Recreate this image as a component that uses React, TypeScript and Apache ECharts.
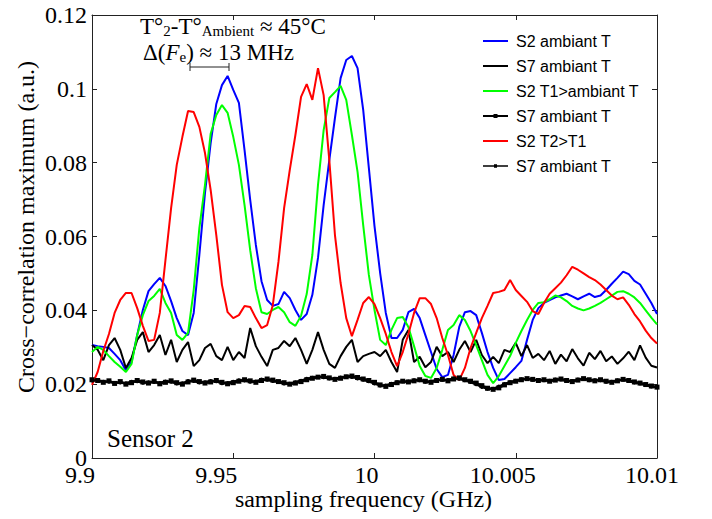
import React, { useEffect, useRef } from "react";
import * as echarts from "echarts";

// sampling grid (GHz)
const FREQ_START = 9.99;
const FREQ_STEP = 0.0002;
const N_POINTS = 101;
const frequencies = Array.from({ length: N_POINTS }, (_, i) => Number((FREQ_START + i * FREQ_STEP).toFixed(4)));

const xTickValues = [9.99, 9.995, 10, 10.005, 10.01];
const xTickLabels = ["9.9", "9.95", "10", "10.005", "10.01"];
const yTickLabels = ["0", "0.02", "0.04", "0.06", "0.08", "0.1", "0.12"];

const seriesNames = ["S2 ambiant T", "S7 ambiant T", "S2 T1>ambiant T", "S7 ambiant T ", "S2 T2>T1", "S7 ambiant T  "];

const s2Ambient = [
  0.0306, 0.0303, 0.0301, 0.0298, 0.0282, 0.0265, 0.0238, 0.026, 0.0333, 0.0401,
  0.0452, 0.0471, 0.0488, 0.0466, 0.0425, 0.0379, 0.0344, 0.0333, 0.0393, 0.055,
  0.0718, 0.0853, 0.0959, 0.101, 0.1035, 0.0997, 0.0962, 0.0834, 0.0699, 0.0577,
  0.0479, 0.0428, 0.0412, 0.0417, 0.045, 0.0433, 0.0401, 0.0374, 0.039, 0.0442,
  0.0542, 0.0685, 0.0807, 0.0921, 0.1029, 0.1078, 0.1089, 0.1056, 0.0943, 0.0786,
  0.0628, 0.0501, 0.0393, 0.0325, 0.0325, 0.0347, 0.0395, 0.0404, 0.0379, 0.0333,
  0.0287, 0.0241, 0.0219, 0.0225, 0.0279, 0.0355, 0.0395, 0.0398, 0.0387, 0.0339,
  0.0287, 0.0244, 0.0211, 0.0214, 0.023, 0.0246, 0.0263, 0.032, 0.0374, 0.0406,
  0.042, 0.0428, 0.0435, 0.044, 0.0445, 0.0438, 0.043, 0.0438, 0.0445, 0.0436,
  0.044, 0.0455, 0.0472, 0.0488, 0.0505, 0.0498, 0.048, 0.047, 0.0445, 0.042, 0.039,
];

const s7AmbientA = [
  0.0306, 0.0293, 0.0265, 0.0306, 0.0325, 0.0293, 0.0244, 0.0271, 0.032, 0.0341,
  0.0287, 0.0306, 0.0333, 0.0279, 0.032, 0.026, 0.0293, 0.0314, 0.0249, 0.0265,
  0.0298, 0.0309, 0.0276, 0.0265, 0.0301, 0.0265, 0.0287, 0.0271, 0.0352, 0.0303,
  0.0274, 0.0249, 0.0293, 0.0298, 0.0317, 0.0303, 0.0325, 0.0293, 0.0255, 0.0293,
  0.0341, 0.0293, 0.0255, 0.0244, 0.0276, 0.0301, 0.032, 0.026, 0.0276, 0.0282,
  0.0287, 0.0276, 0.0293, 0.026, 0.0233, 0.032, 0.0347, 0.026, 0.0274, 0.0246,
  0.026, 0.0301, 0.0276, 0.0287, 0.026, 0.0293, 0.0317, 0.0287, 0.032, 0.0279,
  0.0257, 0.0274, 0.0257, 0.0293, 0.0287, 0.0312, 0.0276, 0.0306, 0.0271, 0.0282,
  0.0265, 0.029, 0.0255, 0.028, 0.0262, 0.0295, 0.027, 0.025, 0.0285, 0.0268,
  0.029, 0.0262, 0.0275, 0.0255, 0.027, 0.0288, 0.0265, 0.0305, 0.0272, 0.025, 0.0245,
];

const s2T1 = [
  0.0287, 0.0301, 0.0293, 0.0276, 0.026, 0.0247, 0.0233, 0.0255, 0.0333, 0.0387,
  0.0425, 0.0439, 0.0458, 0.042, 0.0393, 0.0333, 0.032, 0.0339, 0.0455, 0.0623,
  0.074, 0.0878, 0.0929, 0.0956, 0.0935, 0.087, 0.0794, 0.0685, 0.0563, 0.046,
  0.0395, 0.039, 0.0401, 0.0409, 0.0395, 0.0368, 0.0358, 0.0385, 0.0444, 0.055,
  0.074, 0.0888, 0.0975, 0.0991, 0.1008, 0.097, 0.0875, 0.0775, 0.0631, 0.0496,
  0.0401, 0.032, 0.0306, 0.0347, 0.0379, 0.0382, 0.0355, 0.0303, 0.0249, 0.0222,
  0.0217, 0.0244, 0.0293, 0.0347, 0.036, 0.0387, 0.0374, 0.0344, 0.0306, 0.0265,
  0.0225, 0.0203, 0.0222, 0.0249, 0.0276, 0.0312, 0.0344, 0.0374, 0.0401, 0.042,
  0.0422, 0.043, 0.044, 0.0435, 0.0425, 0.0412, 0.0405, 0.04, 0.0405, 0.0412,
  0.042, 0.043, 0.044, 0.045, 0.0452, 0.0445, 0.0435, 0.042, 0.04, 0.038, 0.0362,
];

const s7AmbientB = [
  0.0212, 0.021, 0.0205, 0.0209, 0.0202, 0.0207, 0.02, 0.0204, 0.021, 0.0206,
  0.0203, 0.0208, 0.0201, 0.0205, 0.0209, 0.0204, 0.02, 0.0206, 0.0211, 0.0207,
  0.0203, 0.0206, 0.021, 0.0205, 0.0201, 0.0204, 0.0208, 0.0212, 0.0209, 0.0205,
  0.021, 0.0214, 0.0211, 0.0207, 0.0204, 0.02, 0.0203, 0.0207, 0.0212, 0.0216,
  0.0219, 0.0221, 0.0217, 0.0213, 0.0216, 0.022, 0.0222, 0.0218, 0.0214, 0.021,
  0.0205, 0.0198, 0.0194, 0.0199, 0.0204, 0.0208, 0.0206, 0.0209, 0.0212, 0.0208,
  0.0205, 0.021, 0.0213, 0.0209, 0.0214, 0.0217, 0.0212, 0.0208, 0.0203, 0.0196,
  0.0189, 0.0186, 0.019, 0.0198, 0.0204, 0.0208, 0.0212, 0.0215, 0.0213, 0.021,
  0.0212, 0.0208, 0.0211, 0.0214, 0.021, 0.0207, 0.0211, 0.0215, 0.0212, 0.0209,
  0.0212, 0.0208, 0.0205, 0.0209, 0.0213, 0.021, 0.0206, 0.0203, 0.0199, 0.0195, 0.0192,
];

const s2T2 = [
  0.0198, 0.0233, 0.029, 0.0336, 0.0393, 0.0428, 0.0447, 0.0447, 0.0406, 0.0358,
  0.0317, 0.032, 0.0393, 0.0536, 0.0677, 0.0794, 0.087, 0.094, 0.0937, 0.0897,
  0.0826, 0.0726, 0.0604, 0.0469, 0.0395, 0.0379, 0.0387, 0.0412, 0.0409, 0.0379,
  0.0352, 0.036, 0.0414, 0.0531, 0.0677, 0.078, 0.0875, 0.0978, 0.1013, 0.097,
  0.1056, 0.0983, 0.0807, 0.0604, 0.0474, 0.0379, 0.033, 0.0374, 0.042, 0.0436,
  0.0417, 0.0379, 0.0336, 0.0287, 0.0249, 0.0287, 0.0336, 0.0393, 0.0433, 0.0433,
  0.0417, 0.0379, 0.0325, 0.0279, 0.0225, 0.0211, 0.0244, 0.0298, 0.0339, 0.0379,
  0.0412, 0.0447, 0.045, 0.0455, 0.0482, 0.0455, 0.0439, 0.0423, 0.0398, 0.039,
  0.042, 0.0445, 0.046, 0.0475, 0.0495, 0.0518, 0.051, 0.05, 0.049, 0.0482,
  0.047, 0.0455, 0.044, 0.043, 0.0435, 0.0415, 0.039, 0.037, 0.0345, 0.0325, 0.031,
];

const s7AmbientC = [
  0.0209, 0.0212, 0.0207, 0.0206, 0.0204, 0.0204, 0.0203, 0.0207, 0.0207, 0.0203,
  0.0206, 0.0205, 0.0204, 0.0208, 0.0206, 0.0201, 0.0203, 0.0209, 0.0208, 0.0204,
  0.0206, 0.0209, 0.0207, 0.0202, 0.0204, 0.0207, 0.0211, 0.0209, 0.0206, 0.0208,
  0.0213, 0.0211, 0.0208, 0.0205, 0.0201, 0.0202, 0.0206, 0.021, 0.0215, 0.0218,
  0.022, 0.0218, 0.0215, 0.0215, 0.0219, 0.0221, 0.0219, 0.0215, 0.0211, 0.0207,
  0.0201, 0.0196, 0.0197, 0.0202, 0.0206, 0.0207, 0.0208, 0.0211, 0.021, 0.0206,
  0.0208, 0.0212, 0.0211, 0.0212, 0.0216, 0.0214, 0.021, 0.0205, 0.0199, 0.0192,
  0.0187, 0.0188, 0.0194, 0.0201, 0.0206, 0.021, 0.0214, 0.0214, 0.0211, 0.0211,
  0.021, 0.021, 0.0213, 0.0212, 0.0208, 0.0209, 0.0213, 0.0214, 0.021, 0.0211,
  0.021, 0.0206, 0.0207, 0.0211, 0.0212, 0.0208, 0.0204, 0.0201, 0.0197, 0.0193, 0.0191,
];

const SERIF = "'Liberation Serif', 'Times New Roman', serif";
const SANS = "'Liberation Sans', Arial, Helvetica, sans-serif";

const ICON_LINE = "path://M0,0H25V2H0Z";
const ICON_SQUARE = "path://M0,1H25V3H0Z M10.5,0H14.5V4H10.5Z";
const ICON_DOT = "path://M0,1.2H25V2.8H0Z M11,0.3H14V3.7H11Z";

// per-label horizontal shift of the x tick labels (right padding, px)
const X_LABEL_SHIFT = [24, 34, 16, 26, 10];

function pairs(values: number[]) {
  return values.map((v, i) => [frequencies[i], v]);
}

export default function App() {
  const ref = useRef<HTMLDivElement>(null);

  useEffect(() => {
    if (!ref.current) return;
    const chart = echarts.init(ref.current, undefined, { renderer: "svg" });

    const axisLine = { show: true, onZero: false, lineStyle: { color: "#222", width: 1 } };
    const axisTick = { show: true, inside: true, length: 5, lineStyle: { color: "#222", width: 1 } };

    const xFormatter = (v: number) => {
      const idx = xTickValues.findIndex((t) => Math.abs(t - v) < 1e-6);
      return idx >= 0 ? `{a${idx}|${xTickLabels[idx]}}` : "";
    };
    const xRich: Record<string, any> = {};
    X_LABEL_SHIFT.forEach((p, i) => {
      xRich[`a${i}`] = { fontFamily: SERIF, fontSize: 24, color: "#000", lineHeight: 16, padding: [0, p, 0, 0] };
    });
    const yFormatter = (v: number) => yTickLabels[Math.round(v / 0.02)] ?? "";

    const lineSeries = (name: string, data: number[], color: string, extra: any = {}) => ({
      name,
      type: "line",
      data: pairs(data),
      symbol: "none",
      lineStyle: { color, width: 2 },
      itemStyle: { color },
      emphasis: { disabled: true },
      ...extra,
    });

    chart.setOption({
      animation: false,
      backgroundColor: "#fff",
      grid: { left: 92, right: 55, top: 15, bottom: 61 },
      xAxis: [
        {
          type: "value",
          position: "bottom",
          min: 9.99,
          max: 10.01,
          interval: 0.005,
          axisLine,
          axisTick,
          splitLine: { show: false },
          axisLabel: {
            formatter: xFormatter,
            rich: xRich,
            fontFamily: SERIF,
            fontSize: 24,
            lineHeight: 16,
            color: "#000",
            margin: 9,
            showMinLabel: true,
            showMaxLabel: true,
          },
          name: "sampling frequency (GHz)",
          nameLocation: "middle",
          nameGap: 29,
          nameMoveOverlap: false,
          nameTextStyle: { fontFamily: SERIF, fontSize: 24, lineHeight: 24, color: "#000", padding: [0, 22, 0, 0] },
        },
        {
          type: "value",
          position: "top",
          min: 9.99,
          max: 10.01,
          interval: 0.005,
          axisLine,
          axisTick,
          splitLine: { show: false },
          axisLabel: { show: false },
        },
      ],
      yAxis: [
        {
          type: "value",
          position: "left",
          min: 0,
          max: 0.12,
          interval: 0.02,
          axisLine,
          axisTick,
          splitLine: { show: false },
          axisLabel: {
            formatter: yFormatter,
            fontFamily: SERIF,
            fontSize: 24,
            lineHeight: 16,
            color: "#000",
            margin: 5,
            showMinLabel: true,
            showMaxLabel: true,
          },
          name: "Cross\u2212correlation maximum (a.u.)",
          nameLocation: "middle",
          nameGap: 54,
          nameMoveOverlap: false,
          nameTextStyle: { fontFamily: SERIF, fontSize: 24, lineHeight: 24, color: "#000", padding: [0, 0, 0, 19] },
        },
        {
          type: "value",
          position: "right",
          min: 0,
          max: 0.12,
          interval: 0.02,
          axisLine,
          axisTick,
          splitLine: { show: false },
          axisLabel: { show: false },
        },
      ],
      legend: {
        orient: "vertical",
        left: 478,
        top: 28,
        itemWidth: 25,
        itemHeight: 10,
        itemGap: 9,
        symbolKeepAspect: true,
        selectedMode: false,
        itemStyle: { borderWidth: 0 },
        textStyle: { fontFamily: SANS, fontSize: 16, color: "#000", lineHeight: 16, padding: [0, 0, 0, 3] },
        data: [
          { name: seriesNames[0], icon: ICON_LINE },
          { name: seriesNames[1], icon: ICON_LINE },
          { name: seriesNames[2], icon: ICON_LINE },
          { name: seriesNames[3], icon: ICON_SQUARE },
          { name: seriesNames[4], icon: ICON_LINE },
          { name: seriesNames[5], icon: ICON_DOT },
        ],
      },
      series: [
        lineSeries(seriesNames[0], s2Ambient, "#0000ff"),
        lineSeries(seriesNames[1], s7AmbientA, "#000000"),
        lineSeries(seriesNames[2], s2T1, "#00ff00"),
        lineSeries(seriesNames[3], s7AmbientB, "#000000", {
          symbol: "rect",
          symbolSize: 5,
          showSymbol: true,
          showAllSymbol: true,
          lineStyle: { color: "#000000", width: 2.5 },
        }),
        lineSeries(seriesNames[4], s2T2, "#ff0000"),
        lineSeries(seriesNames[5], s7AmbientC, "#000000", {
          symbol: "circle",
          symbolSize: 3.5,
          showSymbol: true,
          showAllSymbol: true,
        }),
      ],
      graphic: [
        {
          type: "text",
          x: 140,
          y: 15,
          style: {
            text: "{n|T°}{s|2}{n|-T°}{s|Ambient}{n| \u2248 45°C}",
            verticalAlign: "top",
            align: "left",
            rich: {
              n: { fontFamily: SERIF, fontSize: 23, lineHeight: 23, fill: "#000", verticalAlign: "top" },
              s: { fontFamily: SERIF, fontSize: 15, lineHeight: 15, fill: "#000", verticalAlign: "bottom", padding: [8, 0, 0, 0] },
            },
          },
        },
        {
          type: "text",
          x: 143,
          y: 41,
          style: {
            text: "{n|\u0394(}{i|F}{s|e}{n|) \u2248 13 MHz}",
            verticalAlign: "top",
            align: "left",
            rich: {
              n: { fontFamily: SERIF, fontSize: 23, lineHeight: 23, fill: "#000", verticalAlign: "top" },
              i: { fontFamily: SERIF, fontStyle: "italic", fontSize: 23, lineHeight: 23, fill: "#000", verticalAlign: "top" },
              s: { fontFamily: SERIF, fontSize: 15, lineHeight: 15, fill: "#000", verticalAlign: "bottom", padding: [8, 0, 0, 0] },
            },
          },
        },
        {
          type: "group",
          children: [
            { type: "line", shape: { x1: 190, y1: 67, x2: 229, y2: 67 }, style: { stroke: "#222", lineWidth: 1 } },
            { type: "line", shape: { x1: 190, y1: 63, x2: 190, y2: 71 }, style: { stroke: "#222", lineWidth: 1 } },
            { type: "line", shape: { x1: 229, y1: 63, x2: 229, y2: 71 }, style: { stroke: "#222", lineWidth: 1 } },
          ],
        },
        {
          type: "text",
          x: 107,
          y: 438,
          style: {
            text: "Sensor 2",
            fontFamily: SERIF,
            fontSize: 25,
            fill: "#000",
            verticalAlign: "middle",
            align: "left",
          },
        },
      ],
    });

    return () => chart.dispose();
  }, []);

  return <div ref={ref} style={{ position: "fixed", left: 0, top: 0, width: 712, height: 519 }} />;
}
